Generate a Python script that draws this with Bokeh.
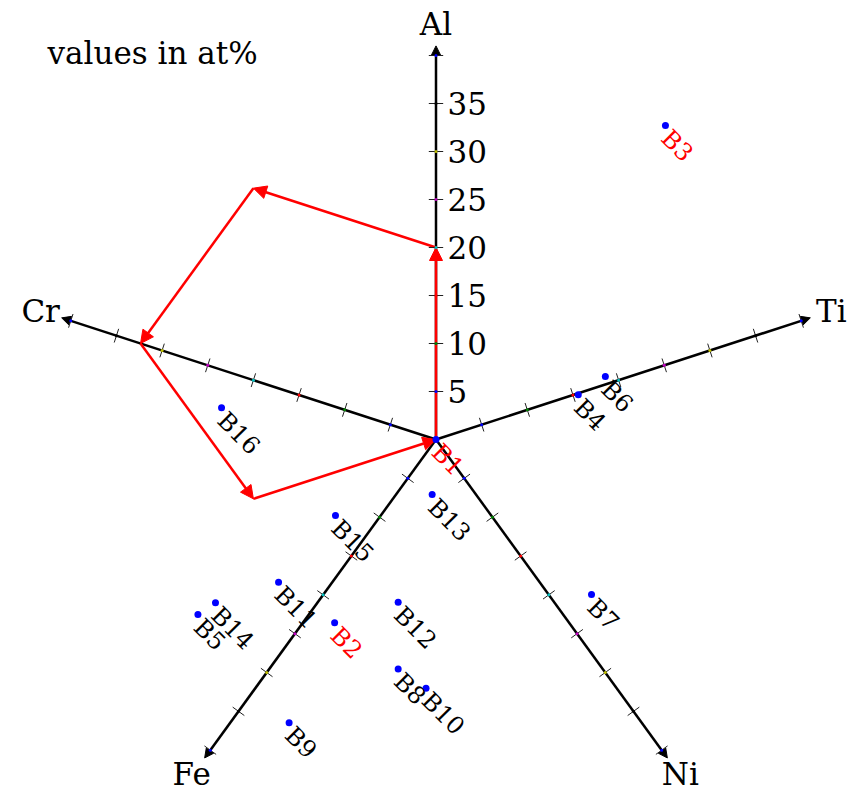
import numpy as np
from bokeh.plotting import figure
from bokeh.models import ColumnDataSource, Arrow, NormalHead
from bokeh.core.properties import value
from bokeh.embed import file_html
from bokeh.resources import INLINE

# star-plot axes: element, direction (degrees)
elements = ["Al", "Ti", "Ni", "Fe", "Cr"]
axis_angles = [90, 18, -54, -126, 162]
axis_tip = 41.0
label_radius = 43.3

tick_values = [5, 10, 15, 20, 25, 30, 35, 40]
tick_colors = ["#0000ff", "#008000", "#ff0000", "#00bfbf",
               "#bf00bf", "#bfbf00", "#000000", "#0000ff"]
al_tick_labels = ["5", "10", "15", "20", "25", "30", "35"]

# alloy positions in the star coordinate system (at%)
alloy_names = ["B1", "B2", "B3", "B4", "B5", "B6", "B7", "B8",
               "B9", "B10", "B11", "B12", "B13", "B14", "B15", "B16"]
alloy_x = [0.0, -10.56, 23.9, 14.82, -24.8, 17.64, 16.2, -3.94,
           -15.3, -1.04, -16.4, -3.94, -0.40, -22.97, -10.47, -22.34]
alloy_y = [0.0, -19.1, 32.7, 4.65, -18.23, 6.56, -16.15, -23.9,
           -29.5, -25.9, -14.86, -16.95, -5.73, -17.0, -7.92, 3.30]
label_colors = ["red", "red", "red"] + ["black"] * 13

# equiatomic composition of B1, summed element by element
path_elements = ["Al", "Cr", "Fe", "Ni", "Ti"]
path_amounts = [20, 20, 20, 20, 20]

FONT = value("DejaVu Serif")
BIG = "31px"
Y_BOTTOM = -353 / 9.6

p = figure(width=862, height=792, output_backend="svg", toolbar_location=None,
           x_range=(-435.5 / 9.6, 426.5 / 9.6), y_range=(Y_BOTTOM, 439 / 9.6),
           x_axis_location=None, y_axis_location=None, min_border=0,
           outline_line_color=None)
p.grid.visible = False

rad = np.radians(axis_angles)
ux, uy = np.cos(rad), np.sin(rad)

# axes as arrows from the origin
axis_src = ColumnDataSource(dict(x0=[0.0] * 5, y0=[0.0] * 5,
                                 x1=axis_tip * ux, y1=axis_tip * uy))
p.add_layout(Arrow(end=NormalHead(size=9, fill_color="black", line_color="black", line_width=1),
                   x_start="x0", y_start="y0", x_end="x1", y_end="y1",
                   source=axis_src, line_width=2.5, line_color="black", level="underlay"))

# composition path of B1
angle_of = dict(zip(elements, axis_angles))
px, py = [0.0], [0.0]
for el, amt in zip(path_elements, path_amounts):
    a = np.radians(angle_of[el])
    px.append(px[-1] + amt * np.cos(a))
    py.append(py[-1] + amt * np.sin(a))
path_src = ColumnDataSource(dict(x0=px[:-1], y0=py[:-1], x1=px[1:], y1=py[1:]))
p.add_layout(Arrow(end=NormalHead(size=13, fill_color="red", line_color="red", line_width=1),
                   x_start="x0", y_start="y0", x_end="x1", y_end="y1",
                   source=path_src, line_width=2.5, line_color="red", level="underlay"))

# tick marks, perpendicular to every axis
half = 0.75
tx0, ty0, tx1, ty1, tcx, tcy, tcol = [], [], [], [], [], [], []
for cx_, cy_ in zip(ux, uy):
    for t, c in zip(tick_values, tick_colors):
        mx, my = t * cx_, t * cy_
        nx, ny = -cy_, cx_
        tx0.append(mx - half * nx); ty0.append(my - half * ny)
        tx1.append(mx + half * nx); ty1.append(my + half * ny)
        tcx.append(mx); tcy.append(my); tcol.append(c)
p.segment(x0=tx0, y0=ty0, x1=tx1, y1=ty1, line_color="#222222", line_width=1)
p.scatter(x=tcx, y=tcy, size=3, color=tcol, line_width=0)

# Al tick labels
al_vals = [float(s) for s in al_tick_labels]
p.text(x=[1.2] * len(al_vals), y=al_vals, text=al_tick_labels, text_font=FONT,
       text_font_size=BIG, text_align="left", text_baseline="middle", text_color="black")

# axis names; the two lower ones sit on the bottom edge
top_idx = [0, 1, 4]
low_idx = [2, 3]
p.text(x=label_radius * ux[top_idx], y=label_radius * uy[top_idx],
       text=[elements[i] for i in top_idx], text_font=FONT,
       text_font_size=BIG, text_align="center", text_baseline="middle", text_color="black")
p.text(x=label_radius * ux[low_idx], y=[Y_BOTTOM + 0.1] * len(low_idx),
       text=[elements[i] for i in low_idx], text_font=FONT,
       text_font_size=BIG, text_align="center", text_baseline="bottom", text_color="black")

# alloys
src = ColumnDataSource(dict(x=alloy_x, y=alloy_y, name=alloy_names, color=label_colors))
p.scatter(x="x", y="y", source=src, size=7, color="blue", line_width=0)
p.text(x="x", y="y", text="name", source=src, text_color="color", angle=-np.pi / 4,
       text_font=FONT, text_font_size="24px", text_align="left",
       text_baseline="alphabetic", y_offset=8.5)

p.text(x=[-40.46], y=[40.3], text=["values in at%"], text_font=FONT,
       text_font_size=BIG, text_align="left", text_baseline="middle", text_color="black")

open("out.html", "w").write(file_html(p, INLINE))
